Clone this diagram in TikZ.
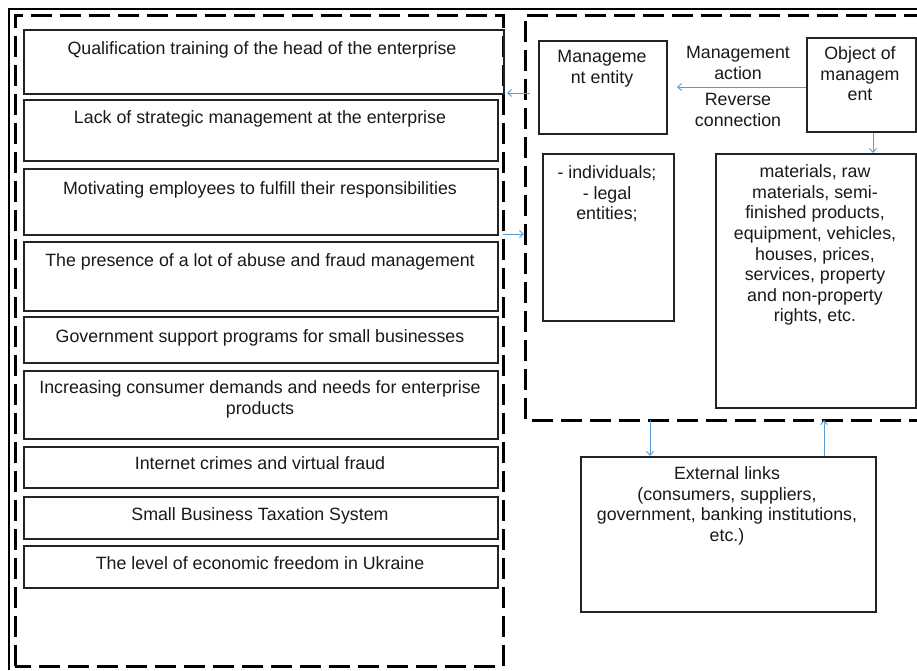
\documentclass[tikz,border=0pt]{standalone}
\usepackage{fontspec}
\setmainfont{Liberation Sans}
\usetikzlibrary{arrows.meta}
\definecolor{arrblue}{RGB}{91,155,213}
\definecolor{boxline}{RGB}{35,35,35}
\begin{document}
\begin{tikzpicture}[x=1pt,y=-1pt,
  box/.style={draw=boxline,line width=1.5pt,inner sep=0pt,anchor=north west},
  txt/.style={font=\fontsize{17.8}{20.6}\selectfont,align=center,inner sep=0pt,anchor=north,text=black!90},
  frame/.style={draw=black,line width=3pt,dash pattern=on 21pt off 8pt},
  conn/.style={draw=arrblue,line width=0.9pt,-{Straight Barb[length=4pt,width=7pt]}}]
\useasboundingbox (0,0) rectangle (917,670);
\fill[white] (0,0) rectangle (917,670);
% outer solid frame (top and left)
\draw[line width=1.6pt] (9,670) -- (9,9) -- (930,9);
% dashed frames
\draw[frame] (15,666) -- (15,15) -- (503,15) -- (503,666) -- cycle;
\draw[frame] (930,420) -- (525,420) -- (525,15) -- (930,15);
% left boxes
\node[box,minimum width=480pt,minimum height=64pt] (b1) at (23,29) {};
\node[box,minimum width=474pt,minimum height=61pt] (b2) at (23,99) {};
\node[box,minimum width=474pt,minimum height=66pt] (b3) at (23,168) {};
\node[box,minimum width=474pt,minimum height=69pt] (b4) at (23,241) {};
\node[box,minimum width=474pt,minimum height=46pt] (b5) at (23,316) {};
\node[box,minimum width=474pt,minimum height=68pt] (b6) at (23,370) {};
\node[box,minimum width=474pt,minimum height=41pt] (b7) at (23,446) {};
\node[box,minimum width=474pt,minimum height=42pt] (b8) at (23,496) {};
\node[box,minimum width=474pt,minimum height=42pt] (b9) at (23,545) {};
\node[txt] (t1) at (262,41.5) {Qualification training of the head of the enterprise};
\node[txt] (t2) at (260,110.5) {Lack of strategic management at the enterprise};
\node[txt] (t3) at (260,181.5) {Motivating employees to fulfill their responsibilities};
\node[txt] (t4) at (260,253.5) {The presence of a lot of abuse and fraud management};
\node[txt] (t5) at (260,329.5) {Government support programs for small businesses};
\node[txt] (t6) at (260,380.5) {Increasing consumer demands and needs for enterprise\\products};
\node[txt] (t7) at (260,456.5) {Internet crimes and virtual fraud};
\node[txt] (t8) at (260,507.5) {Small Business Taxation System};
\node[txt] (t9) at (260,556.5) {The level of economic freedom in Ukraine};
% right boxes
\node[box,minimum width=128pt,minimum height=93pt] (me) at (538,40) {};
\node[box,minimum width=109pt,minimum height=94pt] (ob) at (806,37) {};
\node[box,minimum width=131pt,minimum height=167pt] (ind) at (542,153) {};
\node[box,minimum width=200pt,minimum height=254pt] (mat) at (715,153) {};
\node[box,minimum width=295pt,minimum height=155pt] (ext) at (580,456) {};
\node[txt] (tme) at (602,50.5) {Manageme\\nt entity};
\node[txt] (tob) at (860,46.5) {Object of\\managem\\ent};
\node[txt] (tma) at (738,46.5) {Management\\action};
\node[txt] (trc) at (738,93.5) {Reverse\\connection};
\node[txt] (tind) at (607,165.5) {- individuals;\\- legal\\entities;};
\node[txt] (tmat) at (815,164.5) {materials, raw\\materials, semi-\\finished products,\\equipment, vehicles,\\houses, prices,\\services, property\\and non-property\\rights, etc.};
\node[txt] (text) at (727,466.5) {External links\\(consumers, suppliers,\\government, banking institutions,\\etc.)};
% connectors
\coordinate (c1s) at (530,93);
\coordinate (c1e) at (507,93);
\coordinate (c2s) at (503,234);
\coordinate (c2e) at (524,234);
\coordinate (c4e) at (677,87);
\coordinate (c5s) at (650,420);
\coordinate (c6e) at (824,420);
\draw[conn] (c1s) -- (c1e);
\draw[conn] (c2s) -- (c2e);
\draw[conn] (ob.west |- c4e) -- (c4e);
\draw[conn] (ob.south -| 873,0) -- (mat.north -| 873,0);
\draw[conn] (c5s) -- (ext.north -| c5s);
\draw[conn] (ext.north -| c6e) -- (c6e);
\end{tikzpicture}
\end{document}
